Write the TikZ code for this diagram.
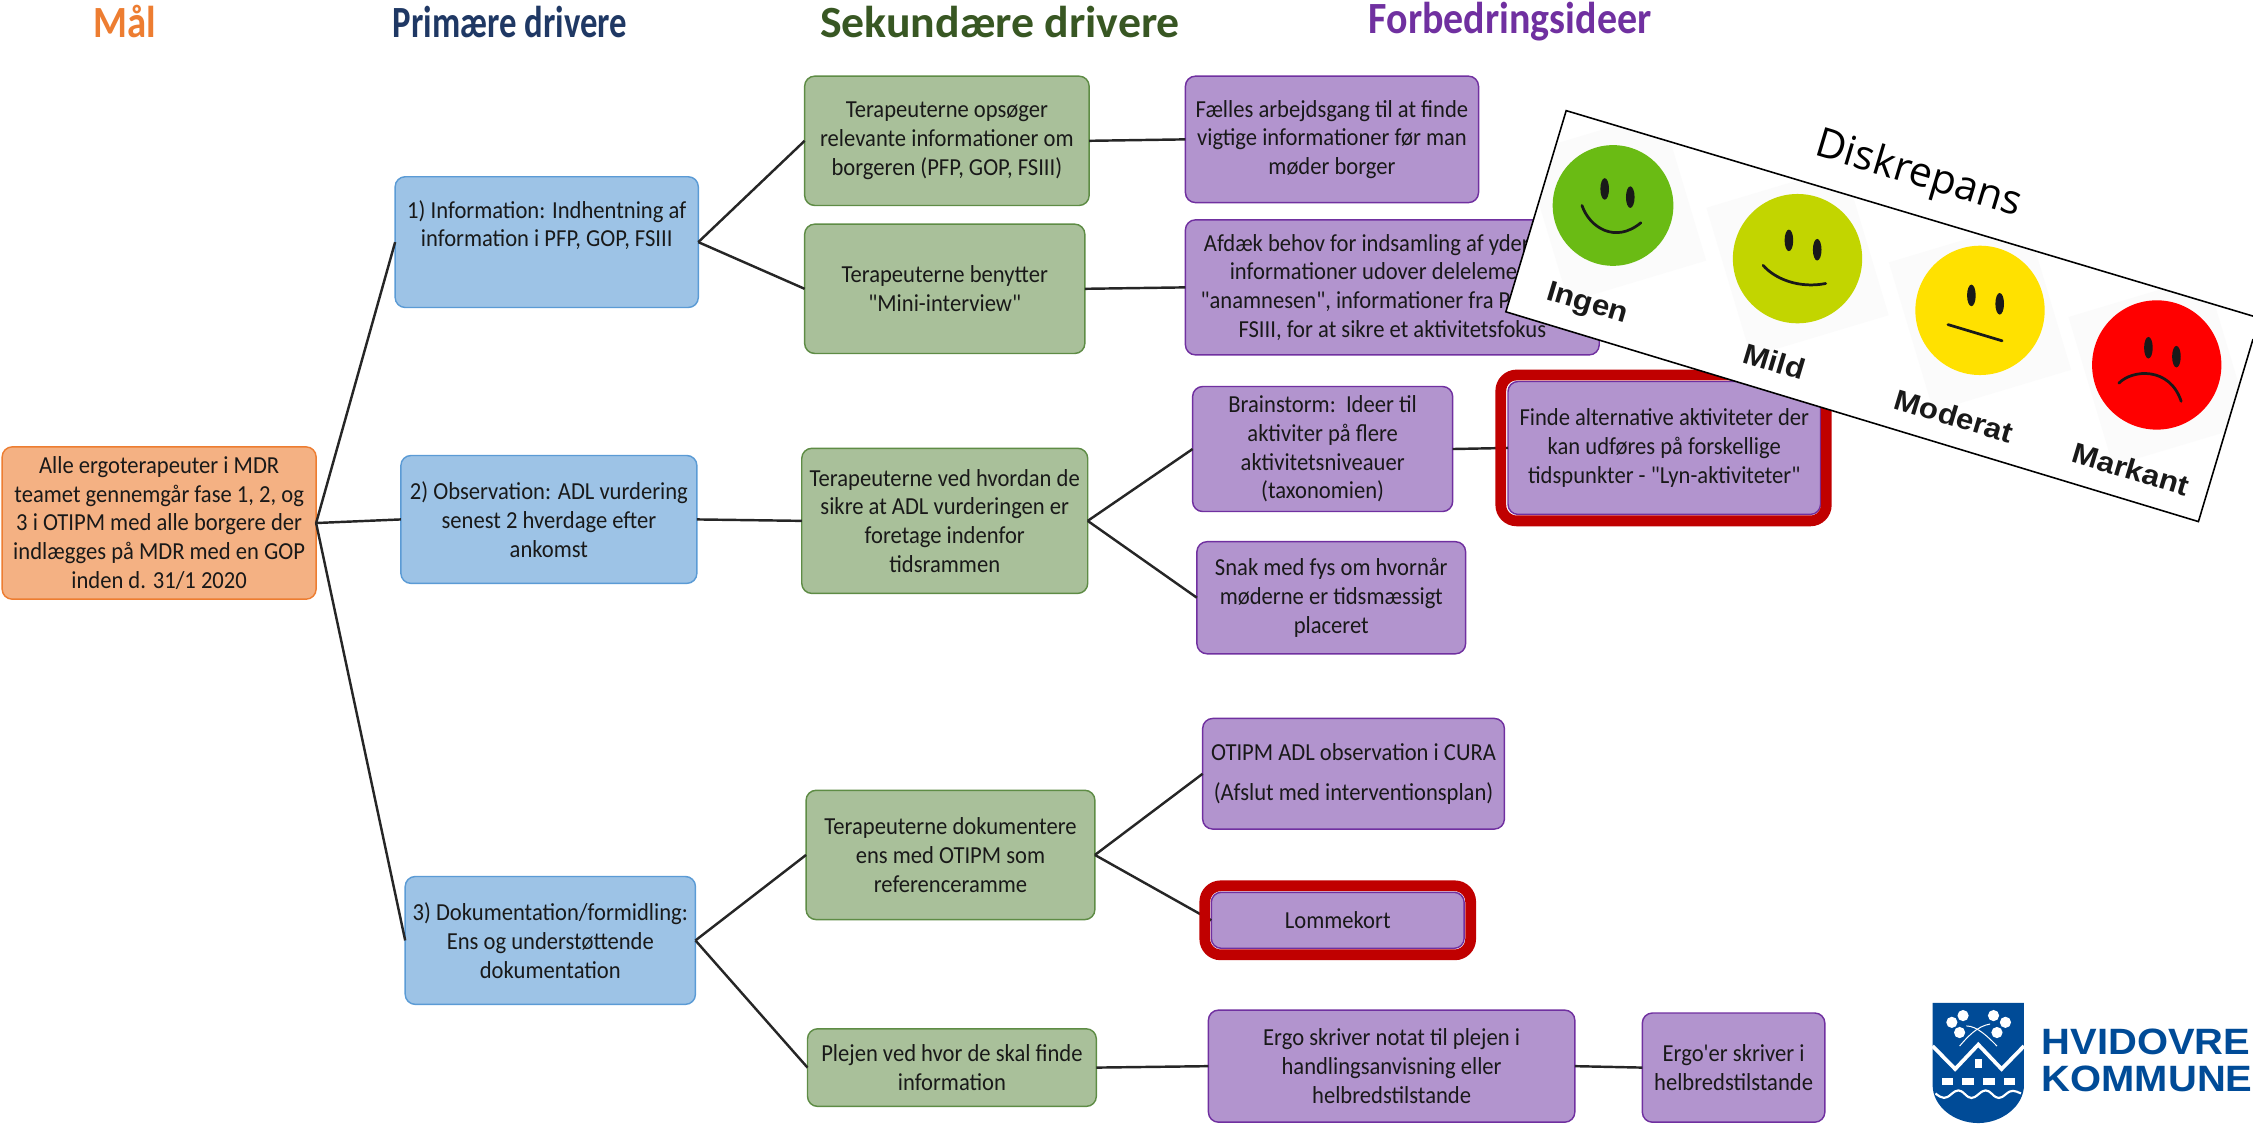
\documentclass[tikz,border=0pt]{standalone}
\usepackage{graphicx}
\usepackage{fontspec}
\setmainfont{Carlito}[Ligatures=TeXOff,FakeStretch=0.925]
\newfontfamily\headfont{Carlito}
\newfontfamily\dejafont{Open Sans}
\newfontfamily\logofont[FakeStretch=1.09]{Liberation Sans}
\definecolor{orfill}{HTML}{F4B183}\definecolor{orline}{HTML}{ED7D31}
\definecolor{blfill}{HTML}{9DC3E6}\definecolor{blline}{HTML}{5B9BD5}
\definecolor{grfill}{HTML}{A9C09A}\definecolor{grline}{HTML}{5E8C45}
\definecolor{pufill}{HTML}{B294CE}\definecolor{puline}{HTML}{7030A0}
\definecolor{redframe}{HTML}{C00000}
\definecolor{logoblue}{HTML}{004B97}
\definecolor{headnavy}{HTML}{1F3864}
\definecolor{headgreen}{HTML}{385723}
\definecolor{faceA}{HTML}{6ABB14}
\definecolor{faceB}{HTML}{C2D500}
\definecolor{faceC}{HTML}{FFE100}
\definecolor{faceD}{HTML}{FF0000}
\tikzset{
 every node/.style={inner sep=0pt,outer sep=0pt},
 boxbase/.style={draw,line width=1pt,rounded corners=7pt,align=center,text=black!90,font=\fontsize{17}{20}\selectfont},
 goalbox/.style={boxbase,fill=orfill,draw=orline},
 primbox/.style={boxbase,fill=blfill,draw=blline},
 secbox/.style={boxbase,fill=grfill,draw=grline},
 ideabox/.style={boxbase,fill=pufill,draw=puline},
 head/.style={font=\headfont\bfseries\fontsize{27}{30}\selectfont},
 conn/.style={draw=black!85,line width=1.7pt},
 frameline/.style={draw=redframe,line width=7.5pt,rounded corners=11pt},
 facelabel/.style={font=\logofont\bfseries\fontsize{20}{22}\selectfont,rotate=-16.7,text=black!90},
 featline/.style={draw=black!90,line width=1.9pt,line cap=round},
 eyeshape/.style={fill=black!90},
}
\newcommand{\bx}[7]{\node[#2,minimum width={(#5-#3)*1pt},minimum height={(#6-#4)*1pt}] (#1) at ({(#3+#5)/2},{(#4+#6)/2}) {#7};}
\begin{document}
\begin{tikzpicture}[x=1pt,y=-1pt]
\useasboundingbox (0,0) rectangle (1568,781.6);
% headings
\node[head,text=orline] (h1) at (87,15) {\scalebox{1.0}[1.15]{Mål}};
\node[head,text=headnavy] (h2) at (355,15) {\scalebox{0.895}[1.15]{Primære drivere}};
\node[head,text=headgreen] (h3) at (696,15) {\scalebox{1.18}[1.15]{Sekundære drivere}};
\node[head,text=puline] (h4) at (1051,15) {\scalebox{1.03}[1.15]{Forbedringsideer}};
% boxes
\bx{goal}{goalbox}{1.5}{311}{220}{417}{Alle ergoterapeuter i MDR\\teamet gennemgår fase 1, 2, og\\3 i OTIPM med alle borgere der\\indlægges på MDR med en GOP\\inden d. 31/1 2020}
\bx{b1}{primbox}{275}{123}{486}{214}{1) Information: Indhentning af\\information i PFP, GOP, FSIII\\[6pt]}
\bx{b2}{primbox}{279}{317}{485}{406}{2) Observation: ADL vurdering\\senest 2 hverdage efter\\ankomst}
\bx{b3}{primbox}{282}{610}{484}{699}{3) Dokumentation/formidling:\\Ens og understøttende\\dokumentation}
\bx{g1}{secbox}{560}{53}{758}{143}{Terapeuterne opsøger\\relevante informationer om\\borgeren (PFP, GOP, FSIII)}
\bx{g2}{secbox}{560}{156}{755}{246}{Terapeuterne benytter\\"Mini-interview"}
\bx{g3}{secbox}{558}{312}{757}{413}{Terapeuterne ved hvordan de\\sikre at ADL vurderingen er\\foretage indenfor\\tidsrammen}
\bx{g4}{secbox}{561}{550}{762}{640}{Terapeuterne dokumentere\\ens med OTIPM som\\referenceramme}
\bx{g5}{secbox}{562}{716}{763}{770}{Plejen ved hvor de skal finde\\information}
\bx{p1}{ideabox}{825}{53}{1029}{141}{Fælles arbejdsgang til at finde\\vigtige informationer før man\\møder borger}
\bx{p2}{ideabox}{825}{153}{1113}{247}{Afdæk behov for indsamling af yderligere\\informationer udover delelementet\\"anamnesen", informationer fra PFP, GOP,\\FSIII, for at sikre et aktivitetsfokus}
\bx{p3}{ideabox}{830}{269}{1011}{356}{Brainstorm:\ \ Ideer til\\aktiviter på flere\\aktivitetsniveauer\\(taxonomien)}
\bx{p4}{ideabox}{1049.5}{265.5}{1267}{358}{Finde alternative aktiviteter der\\kan udføres på forskellige\\tidspunkter - "Lyn-aktiviteter"}
\bx{p5}{ideabox}{833}{377}{1020}{455}{Snak med fys om hvornår\\møderne er tidsmæssigt\\placeret}
\bx{p6}{ideabox}{837}{500}{1047}{577}{OTIPM ADL observation i CURA\\[8pt](Afslut med interventionsplan)}
\bx{p7}{ideabox}{843}{621}{1019}{660}{Lommekort}
\bx{p8}{ideabox}{841}{703}{1096}{781}{Ergo skriver notat til plejen i\\handlingsanvisning eller\\helbredstilstande}
\bx{p9}{ideabox}{1143}{705}{1270}{781}{Ergo'er skriver i\\helbredstilstande}
% connectors
\draw[conn] (goal.east) -- (b1.west);
\draw[conn] (goal.east) -- (b2.west);
\draw[conn] (goal.east) -- (b3.west);
\draw[conn] (b1.east) -- (g1.west);
\draw[conn] (b1.east) -- (g2.west);
\draw[conn] (b2.east) -- (g3.west);
\draw[conn] (b3.east) -- (g4.west);
\draw[conn] (b3.east) -- (g5.west);
\draw[conn] (g1.east) -- (p1.west);
\draw[conn] (g2.east) -- (p2.west);
\draw[conn] (g3.east) -- (p3.west);
\draw[conn] (g3.east) -- (p5.west);
\draw[conn] (g4.east) -- (p6.west);
\draw[conn] (g4.east) -- (p7.west);
\draw[conn] (g5.east) -- (p8.west);
\draw[conn] (p3.east) -- (p4.west);
\draw[conn] (p8.east) -- (p9.west);
% red frames
\draw[frameline] (1044.5,261) rectangle (1271,362.5);
\draw[frameline] (838.5,616.5) rectangle (1023.5,664.5);
% Diskrepans overlay
\fill[white] (1090,77) -- (1568,220) -- (1568,236) -- (1530,363) -- (1048,217) -- cycle;
\begin{scope}
\clip (1090,77) -- (1568,220) -- (1568,236) -- (1530,363) -- (1048,217) -- cycle;
\foreach \cx/\cy in {1124/144,1251/182,1378/220,1503/258}{
  \fill[black!1.5,rotate around={16.7:(\cx,\cy)}] (\cx-50,\cy-54) rectangle (\cx+50,\cy+54);
}
\end{scope}
\draw[black,line width=1.1pt] (1568,220) -- (1090,77) -- (1048,217) -- (1530,363) -- (1568,236);
\node[font=\dejafont\fontsize{28.5}{32}\selectfont,rotate=-16.7] (dis) at (1335,122) {Diskrepans};
% faces
\fill[faceA] (1122.6,143) circle (42);
\fill[eyeshape] (1116.8,131.5) ellipse (3 and 7.5);
\fill[eyeshape] (1134.6,137.2) ellipse (3 and 7.5);
\draw[featline] (1101,143) .. controls (1106,158) and (1124,170) .. (1142,155);
\fill[faceB] (1251,180) circle (45);
\fill[eyeshape] (1245,167.3) ellipse (3 and 7.5);
\fill[eyeshape] (1264.7,173.8) ellipse (3 and 7.5);
\draw[featline] (1227,184.6) .. controls (1235,194) and (1252,201) .. (1270.6,197.3);
\fill[faceC] (1378,216) circle (45);
\fill[eyeshape] (1372,205.6) ellipse (3 and 7.5);
\fill[eyeshape] (1391.7,211.4) ellipse (3 and 7.5);
\draw[featline] (1355.7,225.9) -- (1393.4,237.2);
\fill[faceD] (1501,254) circle (45);
\fill[eyeshape] (1495.2,242) ellipse (3 and 7.5);
\fill[eyeshape] (1514.7,248.2) ellipse (3 and 7.5);
\draw[featline] (1474.6,266.7) .. controls (1484,257) and (1510,255) .. (1518,279.3);
\node[facelabel] (l1) at (1104.6,212) {Ingen};
\node[facelabel] (l2) at (1235,251.6) {Mild};
\node[facelabel] (l3) at (1360,289.6) {Moderat};
\node[facelabel] (l4) at (1483,326.5) {Markant};
% logo
\fill[logoblue] (1345,698) -- (1408.6,698) -- (1408.6,755) .. controls (1408.6,770) and (1393,781.6) .. (1376.8,781.6) .. controls (1360,781.6) and (1345,770) .. (1345,755) -- cycle;
\draw[white,line width=2.6pt] (1345,728) -- (1360.7,744) -- (1376.8,727) -- (1393,744) -- (1408.6,728);
\fill[white] (1374.5,737) rectangle (1379.2,743);
\foreach \wx in {1351.5,1365.8,1380.4,1394.6}{\fill[white] (\wx,750) rectangle ++(8,5.2);}
\draw[white,line width=1.5pt] (1347,761) .. controls (1352,765) and (1354,765) .. (1358,761.5) .. controls (1362,758) and (1364,758) .. (1367.5,761.5) .. controls (1371,765) and (1373,765) .. (1377,761.5) .. controls (1381,758) and (1383,758) .. (1386.5,761.5) .. controls (1390,765) and (1392,765) .. (1396,761.5) .. controls (1400,758) and (1402,759) .. (1406.5,761);
\foreach \lx/\ly in {1366.2/706.8,1358.4/711.5,1363.8/718.6,1387.4/706.8,1395.7/711.5,1389.8/718.6}{\fill[white] (\lx,\ly) circle (3.9);}
\draw[white,line width=0.7pt] (1368.5,714) .. controls (1376,714) and (1384,722) .. (1389.8,728);
\draw[white,line width=0.7pt] (1385,712.7) .. controls (1376,714) and (1369,722) .. (1363.8,728);
\node[anchor=west,text=logoblue,font=\logofont\bfseries\fontsize{25.5}{27}\selectfont] (lg1) at (1421,725.2) {HVIDOVRE};
\node[anchor=west,text=logoblue,font=\logofont\bfseries\fontsize{25.5}{27}\selectfont] (lg2) at (1421,751) {KOMMUNE};
\end{tikzpicture}
\end{document}
